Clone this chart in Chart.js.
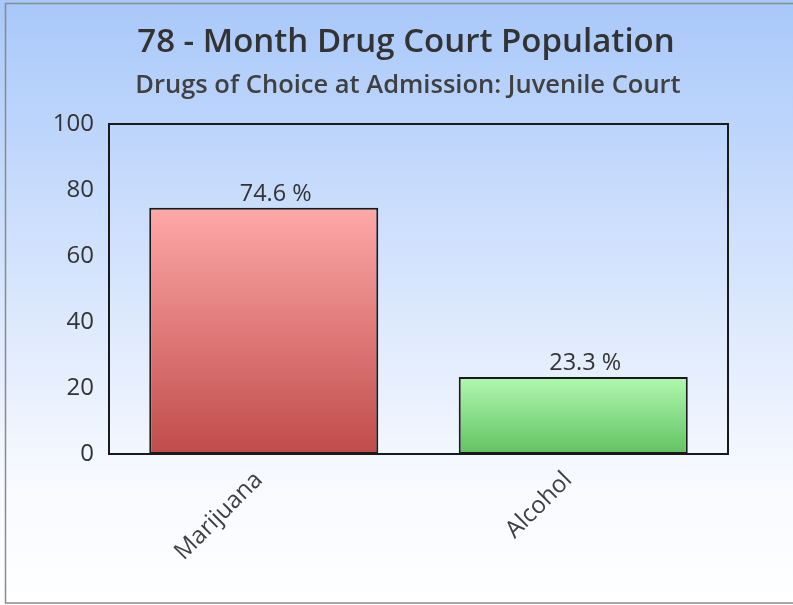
<!DOCTYPE html>
<html>
<head>
<meta charset="utf-8">
<script src="https://cdn.jsdelivr.net/npm/chart.js@4.4.0/dist/chart.umd.min.js"></script>
<style>
html,body{margin:0;padding:0;background:#fff;}
#wrap{width:793px;height:605px;position:relative;}
</style>
</head>
<body>
<div id="wrap"><canvas id="c" width="793" height="605"></canvas></div>
<script>
const titleText = "78 - Month Drug Court Population";
const subtitleText = "Drugs of Choice at Admission: Juvenile Court";
const categories = ["Marijuana", "Alcohol"];
const percentValues = [74.6, 23.3];
const valueLabels = ["74.6 %", "23.3 %"];
const yTicks = [0, 20, 40, 60, 80, 100];

const topColors = ["#ffa8a8", "#b0f8b0"];
const bottomColors = ["#c04c4a", "#62c262"];

const FONT = "'Open Sans', 'Noto Sans', sans-serif";

const bgPlugin = {
  id: 'bg',
  beforeDraw(chart) {
    const ctx = chart.ctx;
    const g = ctx.createLinearGradient(0, 0, 0, chart.height);
    g.addColorStop(0, '#a8c8fa');
    g.addColorStop(0.8, '#f8faff');
    g.addColorStop(1, '#ffffff');
    ctx.save();
    ctx.fillStyle = g;
    ctx.fillRect(0, 0, chart.width, chart.height);
    ctx.strokeStyle = '#8a8a8a';
    ctx.lineWidth = 1.5;
    ctx.beginPath();
    ctx.moveTo(chart.width + 2, 3.5);
    ctx.lineTo(5.5, 3.5);
    ctx.lineTo(5.5, 603);
    ctx.lineTo(chart.width + 2, 603);
    ctx.stroke();
    // titles
    ctx.textAlign = 'center';
    ctx.textBaseline = 'alphabetic';
    ctx.fillStyle = '#333333';
    ctx.font = "600 33px " + FONT;
    ctx.fillText(titleText, 406, 52);
    ctx.fillStyle = '#404040';
    ctx.font = "600 25.5px " + FONT;
    ctx.fillText(subtitleText, 408, 93);
    ctx.restore();
  },
  afterDatasetsDraw(chart) {
    const ctx = chart.ctx;
    const a = chart.chartArea;
    ctx.save();
    ctx.strokeStyle = '#1a1a1a';
    ctx.lineWidth = 2;
    ctx.strokeRect(a.left, a.top, a.right - a.left, a.bottom - a.top);
    const meta = chart.getDatasetMeta(0);
    ctx.font = "23.5px " + FONT;
    ctx.fillStyle = '#333333';
    ctx.textAlign = 'center';
    ctx.textBaseline = 'alphabetic';
    meta.data.forEach((bar, i) => {
      ctx.fillText(valueLabels[i], bar.x + 12, bar.y - 7);
    });
    ctx.restore();
  }
};

function barGradient(context) {
  const chart = context.chart;
  const i = context.dataIndex;
  if (!chart.chartArea || !chart.scales.y) return topColors[i];
  const y = chart.scales.y;
  const top = y.getPixelForValue(percentValues[i]);
  const bottom = y.getPixelForValue(0);
  const g = chart.ctx.createLinearGradient(0, top, 0, bottom);
  g.addColorStop(0, topColors[i]);
  g.addColorStop(1, bottomColors[i]);
  return g;
}

new Chart(document.getElementById('c'), {
  type: 'bar',
  data: {
    labels: categories,
    datasets: [{
      data: percentValues,
      backgroundColor: barGradient,
      borderColor: '#1a1a1a',
      borderWidth: 2,
      borderSkipped: false,
      categoryPercentage: 0.74,
      barPercentage: 1.0
    }]
  },
  plugins: [bgPlugin],
  options: {
    responsive: false,
    animation: false,
    events: [],
    layout: { padding: { left: 20, right: 65, top: 124, bottom: 10 } },
    plugins: {
      legend: { display: false },
      tooltip: { enabled: false },
      title: { display: false },
      subtitle: { display: false }
    },
    scales: {
      x: {
        grid: { display: false, drawTicks: false },
        border: { display: false },
        ticks: {
          color: '#404040',
          font: { family: FONT, size: 24 },
          minRotation: 45,
          maxRotation: 45,
          padding: 12,
          labelOffset: -5
        },
        afterFit(scale) { scale.height = 141; }
      },
      y: {
        min: 0,
        max: 100,
        afterBuildTicks(scale) { scale.ticks = yTicks.map(v => ({ value: v })); },
        grid: { display: false, drawTicks: false },
        border: { display: false },
        ticks: {
          color: '#333333',
          font: { family: FONT, size: 24 },
          padding: 15
        },
        afterFit(scale) { scale.width = 89; }
      }
    }
  }
});
</script>
</body>
</html>
